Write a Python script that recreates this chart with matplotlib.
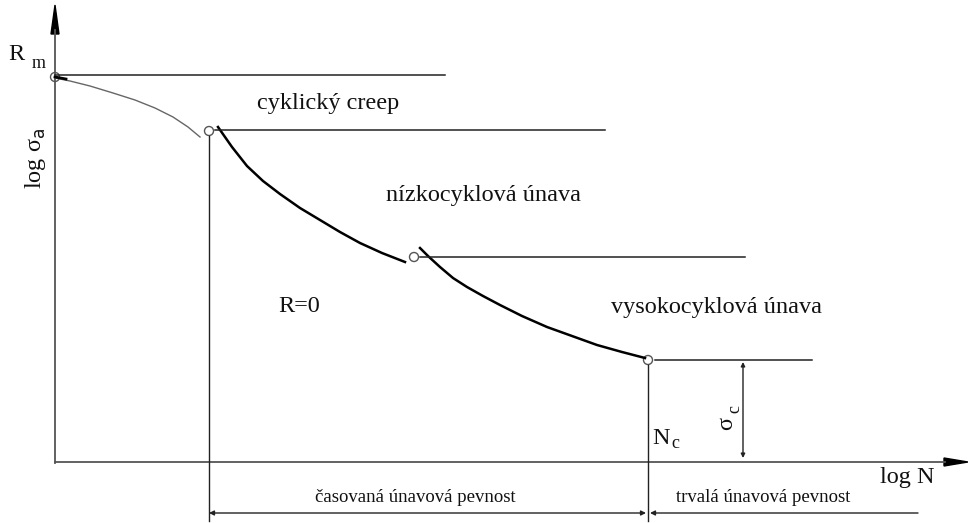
import matplotlib.pyplot as plt
from matplotlib.patches import Circle, Polygon

plt.rcParams['font.family'] = ['Liberation Serif', 'DejaVu Serif']

# drawing coordinates (x to the right, y downwards)
creep_x = [55, 70, 90, 113, 135, 155, 173, 188, 200]
creep_y = [78, 81, 86, 93, 100, 108, 117, 127, 137]

low_x = [218, 232, 247, 263, 280, 300, 320, 340, 360, 382, 405]
low_y = [127, 147, 166, 181, 194, 208, 220, 232, 243, 253, 262]

high_x = [420, 428, 440, 453, 467, 483, 500, 522, 547, 572, 597, 622, 645]
high_y = [248, 256, 267, 278, 287, 296, 305, 316, 327, 336, 345, 352, 358]

# knee points: R_m, creep/low-cycle, low/high-cycle, fatigue limit
knee_x = [55, 209, 414, 648]
knee_y = [77, 131, 257, 360]

# horizontal level lines: (y, x_start, x_end)
levels = [(75, 55, 445), (130, 215, 605), (257, 420, 745), (360, 655, 812)]

region_labels = ['cyklický creep', 'nízkocyklová únava', 'R=0', 'vysokocyklová únava']
region_x = [257, 386, 278, 611]
region_y = [103, 195, 307, 307]

fig = plt.figure(figsize=(9.68, 5.23), dpi=100)
ax = fig.add_axes([0, 0, 1, 1])
ax.set_xlim(0, 968)
ax.set_ylim(523, 0)
ax.axis('off')

lc = '#222222'

# axes with arrows
ax.plot([55, 55], [30, 463], color='#555555', lw=1.3)
ax.add_patch(Polygon([[55, 5], [51, 34], [59, 34]], closed=True, color='black'))
ax.plot([55, 945], [462, 462], color='#555555', lw=1.3)
ax.add_patch(Polygon([[968, 462], [944, 458], [944, 466]], closed=True, color='black'))

# curve segments
ax.plot(creep_x, creep_y, color='#666666', lw=1.0)
ax.plot([55, 66], [77, 79], color='black', lw=2.0)
ax.plot(low_x, low_y, color='black', lw=1.8)
ax.plot(high_x, high_y, color='black', lw=1.8)

for x, y in zip(knee_x, knee_y):
    ax.add_patch(Circle((x, y), 4.5, fill=False, ec='#555555', lw=1.0))

for y, x0, x1 in levels:
    ax.plot([x0, x1], [y, y], color=lc, lw=1.1)

# vertical boundaries
ax.plot([209, 209], [136, 521], color=lc, lw=1.0)
ax.plot([648, 648], [365, 521], color=lc, lw=1.0)

# sigma_c dimension
ax.annotate('', xy=(743, 362), xytext=(743, 458),
            arrowprops=dict(arrowstyle='<|-|>', color=lc, lw=1.0,
                            mutation_scale=6, shrinkA=0, shrinkB=0))

# bottom dimension lines
ax.annotate('', xy=(209, 513), xytext=(646, 513),
            arrowprops=dict(arrowstyle='<|-|>', color=lc, lw=1.0,
                            mutation_scale=7, shrinkA=0, shrinkB=0))
ax.annotate('', xy=(650, 513), xytext=(918, 513),
            arrowprops=dict(arrowstyle='-|>', color=lc, lw=1.0,
                            mutation_scale=7, shrinkA=0, shrinkB=0))

tc = '#111111'
fs = 17.5
for s, x, y in zip(region_labels, region_x, region_y):
    ax.text(x, y, s, fontsize=fs, color=tc, va='center', ha='left')

ax.text(8, 55, 'R', fontsize=fs, color=tc, va='center', ha='left')
ax.text(32, 64, 'm', fontsize=13, color=tc, va='center', ha='left')
ax.text(35, 158, r'log σ$_{\mathrm{a}}$', fontsize=fs, color=tc, va='center', ha='center',
        rotation=90)
ax.text(652, 439, 'N', fontsize=fs, color=tc, va='center', ha='left')
ax.text(671, 443, 'c', fontsize=13, color=tc, va='center', ha='left')
ax.text(727, 423, 'σ', fontsize=fs, color=tc, va='center', ha='center', rotation=90)
ax.text(735, 409, 'c', fontsize=13, color=tc, va='center', ha='center', rotation=90)
ax.text(880, 477, 'log N', fontsize=fs, color=tc, va='center', ha='left')

fs_small = 13.5
ax.text(415, 498, 'časovaná únavová pevnost', fontsize=fs_small, color=tc, va='center',
        ha='center')
ax.text(763, 497, 'trvalá únavová pevnost', fontsize=fs_small, color=tc, va='center',
        ha='center')

fig.savefig('out.png', dpi=100)
